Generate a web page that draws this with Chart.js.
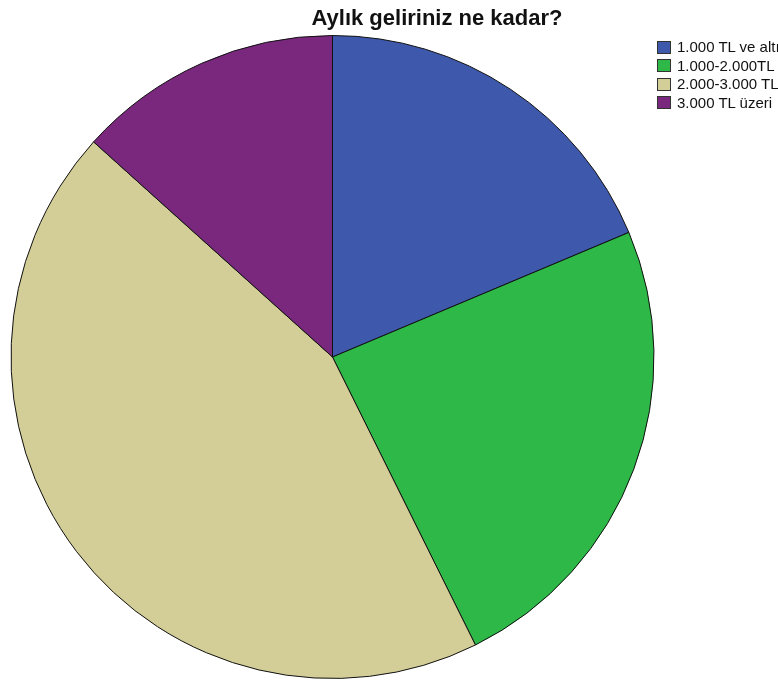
<!DOCTYPE html>
<html>
<head>
<meta charset="utf-8">
<script src="https://cdn.jsdelivr.net/npm/chart.js@4"></script>
<style>
  body { margin: 0; background: #fff; }
  #wrap { position: relative; width: 778px; height: 682px; overflow: hidden; }
  canvas { position: absolute; left: 0; top: 0; }
  #title {
    position: absolute; left: 0; width: 874px; top: 5px; text-align: center;
    font: bold 22px "Liberation Sans", Arial, sans-serif; line-height: 26px; color: #111;
  }
  #legend {
    position: absolute; left: 657px; top: 38px; list-style: none; margin: 0; padding: 0;
    font: 15px "Liberation Sans", Arial, sans-serif; color: #111; white-space: nowrap;
  }
  #legend li { height: 18.5px; line-height: 18.5px; display: flex; align-items: center; }
  #legend span.box {
    display: inline-block; width: 12px; height: 11px; border: 1px solid #333;
    margin-right: 6px; box-sizing: content-box;
  }
</style>
</head>
<body>
<div id="wrap">
  <canvas id="pie" width="778" height="682"></canvas>
  <div id="title">Aylık geliriniz ne kadar?</div>
  <ul id="legend"></ul>
</div>
<script>
"use strict";

const incomeLabels = ["1.000 TL ve altı", "1.000-2.000TL", "2.000-3.000 TL", "3.000 TL üzeri"];
const incomeCounts = [28, 36, 66, 20];
const sliceColors = ["#3E58AC", "#2EB848", "#D3CE97", "#79287D"];

const legendList = document.getElementById("legend");
for (let i = 0; i < incomeLabels.length; i++) {
  const li = document.createElement("li");
  const box = document.createElement("span");
  box.className = "box";
  box.style.background = sliceColors[i];
  li.appendChild(box);
  li.appendChild(document.createTextNode(incomeLabels[i]));
  legendList.appendChild(li);
}

const pieChart = new Chart(document.getElementById("pie"), {
  type: "pie",
  data: {
    labels: incomeLabels,
    datasets: [
      {
        data: incomeCounts,
        backgroundColor: sliceColors,
        borderColor: "#111",
        borderWidth: 1,
      },
    ],
  },
  options: {
    responsive: false,
    animation: false,
    layout: {
      padding: { left: 10, right: 123, top: 35, bottom: 3 },
    },
    plugins: {
      legend: { display: false },
      tooltip: { enabled: false },
    },
  },
});
</script>
</body>
</html>
